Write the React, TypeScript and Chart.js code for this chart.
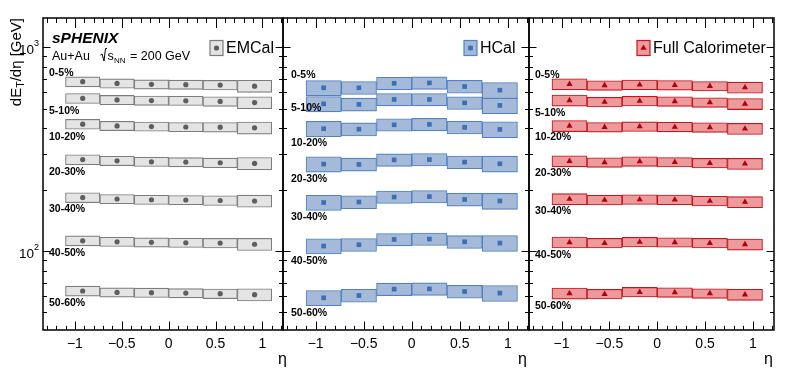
import React, { useEffect, useRef } from 'react';
import { Chart, registerables } from 'chart.js';

Chart.register(...registerables);

// ---------------- data ----------------
const etaCenters = [-0.9167, -0.55, -0.1833, 0.1833, 0.55, 0.9167];
const centralityLabels = ['0-5%', '5-10%', '10-20%', '20-30%', '30-40%', '40-50%', '50-60%'];
const etaTickLabels = [-1, -0.5, 0, 0.5, 1];
const yDecadeLabels = [100, 1000];

const emcalValues = [
  [677, 664, 657, 655, 652, 644],
  [561, 551, 547, 546, 542, 535],
  [419, 411, 408, 406, 405, 402],
  [281, 277, 274, 273, 271, 269],
  [183, 180, 178.5, 178, 177, 176],
  [112.3, 111, 110.3, 109.8, 109.4, 108],
  [63.7, 62.7, 62.5, 62.2, 61.8, 61.1],
];
const hcalValues = [
  [632, 632, 665, 668, 641, 615],
  [527, 524, 554, 554, 533, 518],
  [398, 396, 416, 418, 404, 395],
  [267, 266, 280, 281, 273, 268],
  [173, 174, 184, 185, 179, 176],
  [105.8, 107.4, 114, 114.5, 111, 109.4],
  [59.0, 60.5, 65, 65.2, 63.3, 62.2],
];
const fullValues = [
  [659, 649, 654, 651, 644, 634],
  [548, 538, 544, 542, 536, 527],
  [411, 405, 408, 406, 404, 398],
  [276, 272, 275, 273, 270, 268],
  [180, 178, 179, 178.5, 176, 174],
  [110.3, 109.4, 110.7, 110.3, 109.4, 107.8],
  [62.0, 61.5, 62.9, 62.7, 62.0, 61.1],
];
// relative systematic uncertainty per eta bin
const emcalSys = [0.056, 0.052, 0.052, 0.052, 0.054, 0.068];
const hcalSys = [0.086, 0.073, 0.07, 0.07, 0.072, 0.09];
const fullSys = [0.062, 0.054, 0.054, 0.054, 0.054, 0.062];

// ---------------- layout ----------------
const W = 787;
const H = 376;
const PLOT_TOP = 18;
const PLOT_BOTTOM = 330;
const X_MIN = -1.34;
const X_MAX = 1.22;
const Y_MIN = 41;
const Y_MAX = 1390;
const FONT = '"Liberation Sans", Arial, Helvetica, sans-serif';

type PanelCfg = {
  name: string;
  left: number;
  right: number;
  values: number[][];
  sys: number[];
  fill: string;
  border: string;
  marker: string;
  pointStyle: 'circle' | 'rect' | 'triangle';
  radius: number;
  legendBoxX: number;
  labelDx: number;
  labelDy: number[];
  etaRightDx: number;
  first: boolean;
};

const panels: PanelCfg[] = [
  {
    name: 'EMCal', left: 43, right: 283, values: emcalValues, sys: emcalSys,
    fill: '#e4e4e4', border: '#7c7c7c', marker: '#5e5e5e', pointStyle: 'circle', radius: 2.6,
    legendBoxX: 210, labelDx: 6, labelDy: [-9, 12.5, 12.5, 12.5, 12, 12.3, 12], etaRightDx: 4, first: true,
  },
  {
    name: 'HCal', left: 283, right: 529, values: hcalValues, sys: hcalSys,
    fill: '#a5bad8', border: '#5282c4', marker: '#3d6fb5', pointStyle: 'rect', radius: 3.3,
    legendBoxX: 464, labelDx: 8, labelDy: [-12.7, 4.3, 14.5, 15, 14.7, 15, 15.3], etaRightDx: -2, first: false,
  },
  {
    name: 'Full Calorimeter', left: 529, right: 774, values: fullValues, sys: fullSys,
    fill: '#ec9a9b', border: '#c4161f', marker: '#b3000e', pointStyle: 'triangle', radius: 3.6,
    legendBoxX: 637, labelDx: 6, labelDy: [-9, 12.7, 11.5, 12, 12, 12.7, 12.7], etaRightDx: -1, first: false,
  },
];

function fmtEta(v: number) {
  const s = String(Math.abs(v));
  return v < 0 ? '\u2212' + s : s;
}

function drawMarker(ctx: CanvasRenderingContext2D, style: string, x: number, y: number, r: number) {
  ctx.beginPath();
  if (style === 'circle') {
    ctx.arc(x, y, r, 0, Math.PI * 2);
  } else if (style === 'rect') {
    const s = r * Math.SQRT1_2;
    ctx.rect(x - s, y - s, 2 * s, 2 * s);
  } else {
    ctx.moveTo(x, y - r);
    ctx.lineTo(x + r * 0.866, y + r * 0.5);
    ctx.lineTo(x - r * 0.866, y + r * 0.5);
    ctx.closePath();
  }
  ctx.fill();
}

function makeDecorPlugin(p: PanelCfg, index: number) {
  return {
    id: 'decor' + index,
    afterDatasetsDraw(chart: any) {
      const ctx: CanvasRenderingContext2D = chart.ctx;
      const { left, right, top, bottom } = chart.chartArea;
      const xs = chart.scales.x;
      const ys = chart.scales.y;
      ctx.save();

      // centrality labels
      ctx.fillStyle = '#000';
      ctx.font = `bold 10.5px ${FONT}`;
      ctx.textBaseline = 'middle';
      ctx.textAlign = 'left';
      p.values.forEach((row, r) => {
        const y = ys.getPixelForValue(row[0]) + p.labelDy[r];
        ctx.fillText(centralityLabels[r], left + p.labelDx, y);
      });

      // legend
      const bx = p.legendBoxX;
      const by = 40.5;
      const bw = 13;
      const bh = 15;
      ctx.fillStyle = p.fill;
      ctx.fillRect(bx, by, bw, bh);
      ctx.strokeStyle = p.border;
      ctx.lineWidth = 1.2;
      ctx.strokeRect(bx, by, bw, bh);
      ctx.fillStyle = p.marker;
      drawMarker(ctx, p.pointStyle, bx + bw / 2, by + bh / 2, p.radius);
      ctx.fillStyle = '#000';
      ctx.font = `16px ${FONT}`;
      ctx.textBaseline = 'middle';
      ctx.textAlign = 'left';
      ctx.fillText(p.name, bx + bw + 3, by + bh / 2 + 0.5);

      // frame
      ctx.strokeStyle = '#000';
      ctx.lineWidth = 1.5;
      ctx.strokeRect(left, top, right - left, bottom - top);

      // ticks
      ctx.lineWidth = 1;
      ctx.beginPath();
      for (let k = -14; k <= 13; k++) {
        const v = k / 10;
        if (v < xs.min || v > xs.max) continue;
        const major = k % 5 === 0;
        const px = Math.round(xs.getPixelForValue(v)) + 0.5;
        const lb = major ? 8.5 : 4.2;
        const lt = major ? 10 : 5;
        ctx.moveTo(px, bottom);
        ctx.lineTo(px, bottom - lb);
        ctx.moveTo(px, top);
        ctx.lineTo(px, top + lt);
      }
      for (const dec of [10, 100, 1000]) {
        for (let m = 1; m <= 9; m++) {
          const v = dec * m;
          if (v < ys.min || v > ys.max) continue;
          const major = m === 1;
          const py = Math.round(ys.getPixelForValue(v)) + 0.5;
          const len = major ? 7.5 : 4;
          ctx.moveTo(left, py);
          ctx.lineTo(left + len, py);
          ctx.moveTo(right, py);
          ctx.lineTo(right - len, py);
        }
      }
      ctx.stroke();

      // x tick labels
      ctx.fillStyle = '#000';
      ctx.font = `14px ${FONT}`;
      ctx.textAlign = 'center';
      ctx.textBaseline = 'middle';
      for (const v of etaTickLabels) {
        ctx.fillText(fmtEta(v), xs.getPixelForValue(v), bottom + 14);
      }
      // eta title
      ctx.font = `16px ${FONT}`;
      ctx.textAlign = 'right';
      ctx.textBaseline = 'alphabetic';
      ctx.fillText('\u03B7', right + p.etaRightDx, 364);

      if (p.first) {
        // y tick labels 10^n
        for (const v of yDecadeLabels) {
          const py = ys.getPixelForValue(v);
          const exp = String(Math.round(Math.log10(v)));
          ctx.font = `9px ${FONT}`;
          const ew = ctx.measureText(exp).width;
          ctx.textAlign = 'left';
          ctx.textBaseline = 'alphabetic';
          const expX = left - 4 - ew;
          ctx.fillText(exp, expX, py - 1);
          ctx.font = `13.5px ${FONT}`;
          ctx.textAlign = 'right';
          ctx.fillText('10', expX, py + 7);
        }
        // y title (rotated)
        ctx.save();
        ctx.translate(21, top);
        ctx.rotate(-Math.PI / 2);
        ctx.textAlign = 'left';
        ctx.textBaseline = 'alphabetic';
        const big = `15px ${FONT}`;
        const small = `10.5px ${FONT}`;
        ctx.font = big;
        const w1 = ctx.measureText('dE').width;
        const w3 = ctx.measureText('/d\u03B7 [GeV]').width;
        ctx.font = small;
        const w2 = ctx.measureText('T').width;
        let x0 = -(w1 + w2 + w3);
        ctx.font = big;
        ctx.fillText('dE', x0, 0);
        x0 += w1;
        ctx.font = small;
        ctx.fillText('T', x0, 3);
        x0 += w2;
        ctx.font = big;
        ctx.fillText('/d\u03B7 [GeV]', x0, 0);
        ctx.restore();

        // sPHENIX label
        ctx.textAlign = 'left';
        ctx.textBaseline = 'alphabetic';
        ctx.font = `italic bold 15.5px ${FONT}`;
        ctx.fillText('sPHENIX', 52, 43);
        ctx.font = `12.5px ${FONT}`;
        ctx.fillText('Au+Au', 52, 60);
        // radical
        ctx.lineWidth = 1;
        ctx.beginPath();
        ctx.moveTo(100.5, 55);
        ctx.lineTo(102, 54);
        ctx.lineTo(104, 61);
        ctx.lineTo(105.5, 48.5);
        ctx.lineTo(107, 48.5);
        ctx.stroke();
        ctx.fillText('s', 107.5, 60);
        ctx.font = `8px ${FONT}`;
        ctx.fillText('NN', 114, 63);
        ctx.font = `12.5px ${FONT}`;
        ctx.fillText('= 200 GeV', 130, 60);
      }
      ctx.restore();
    },
  };
}

function Panel({ p, index }: { p: PanelCfg; index: number }) {
  const ref = useRef<HTMLCanvasElement>(null);
  useEffect(() => {
    const points: { x: number; y: number }[] = [];
    p.values.forEach((row) => row.forEach((v, i) => points.push({ x: etaCenters[i], y: v })));
    const barSets = p.values.map((row, r) => ({
      type: 'bar' as const,
      label: centralityLabels[r],
      data: row.map((v, i) => ({ x: etaCenters[i], y: [v * (1 - p.sys[i]), v * (1 + p.sys[i])] })),
      backgroundColor: p.fill,
      borderColor: p.border,
      borderWidth: 1.1,
      borderSkipped: false,
      grouped: false,
      barPercentage: 1,
      categoryPercentage: 1,
      order: 1,
    }));
    const chart = new Chart(ref.current as HTMLCanvasElement, {
      type: 'bar',
      data: {
        datasets: [
          {
            type: 'scatter' as const,
            label: p.name,
            data: points,
            pointStyle: p.pointStyle,
            pointRadius: p.radius,
            pointHoverRadius: p.radius,
            backgroundColor: p.marker,
            borderColor: p.marker,
            borderWidth: 0,
            order: 0,
          } as any,
          ...(barSets as any[]),
        ],
      },
      options: {
        responsive: false,
        animation: false,
        events: [],
        layout: {
          padding: { left: p.left, right: W - p.right, top: PLOT_TOP, bottom: H - PLOT_BOTTOM },
        },
        plugins: { legend: { display: false }, tooltip: { enabled: false } },
        scales: {
          x: {
            type: 'linear',
            min: X_MIN,
            max: X_MAX,
            offset: false,
            grid: { offset: false },
            display: false,
            afterBuildTicks: (scale: any) => {
              scale.ticks = etaTickLabels.map((v) => ({ value: v }));
            },
          },
          y: {
            type: 'logarithmic',
            min: Y_MIN,
            max: Y_MAX,
            display: false,
          },
        },
      } as any,
      plugins: [makeDecorPlugin(p, index)],
    });
    return () => chart.destroy();
  }, []);
  return (
    <canvas
      ref={ref}
      width={W}
      height={H}
      style={{ position: 'absolute', left: 0, top: 0, width: W, height: H }}
    />
  );
}

export default function App() {
  return (
    <div style={{ position: 'absolute', left: 0, top: 0, width: W, height: H, background: '#fff', overflow: 'hidden' }}>
      {panels.map((p, i) => (
        <Panel key={i} p={p} index={i} />
      ))}
    </div>
  );
}
